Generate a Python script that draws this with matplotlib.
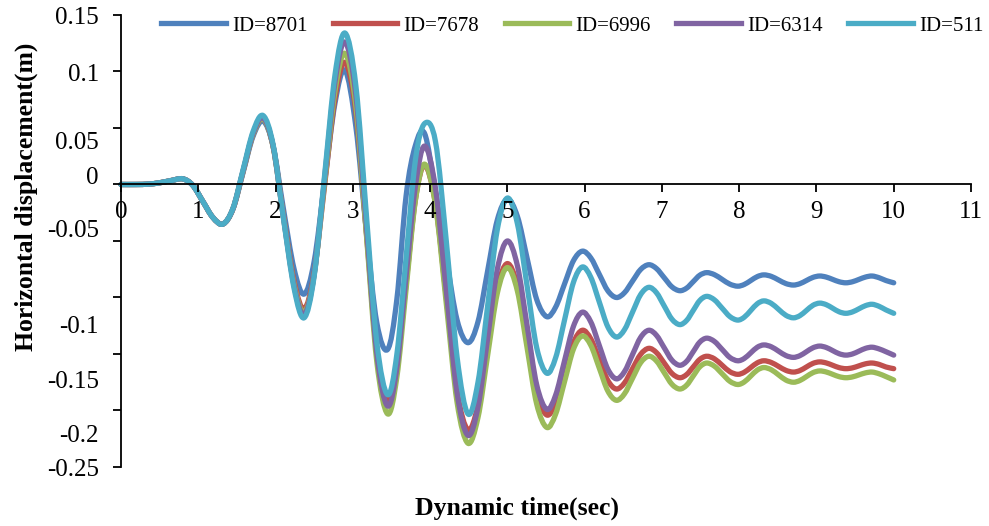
import matplotlib.pyplot as plt
from matplotlib import transforms
from matplotlib.path import Path
from matplotlib.patches import PathPatch
from matplotlib.lines import Line2D

plt.rcParams['font.family'] = 'Liberation Serif'

# time axis (sec)
t = [0, 0.2, 0.35, 0.5, 0.65, 0.8,
     0.93, 1.06, 1.19, 1.32,
     1.45, 1.58, 1.71, 1.84,
     1.97, 2.10, 2.24, 2.37,
     2.50, 2.635, 2.77, 2.90,
     3.04, 3.175, 3.31, 3.45,
     3.57, 3.69, 3.81, 3.93,
     4.07, 4.21, 4.35, 4.49,
     4.62, 4.745, 4.87, 5.00,
     5.13, 5.255, 5.38, 5.51,
     5.625, 5.74, 5.855, 5.97,
     6.08, 6.19, 6.30, 6.41,
     6.515, 6.62, 6.725, 6.83,
     6.93, 7.03, 7.13, 7.23,
     7.32, 7.405, 7.49, 7.58,
     7.68, 7.78, 7.88, 7.98,
     8.065, 8.15, 8.235, 8.32,
     8.415, 8.51, 8.605, 8.70,
     8.785, 8.87, 8.955, 9.04,
     9.125, 9.21, 9.295, 9.38,
     9.465, 9.55, 9.635, 9.72,
     9.81, 9.90, 10.0]

start = [0, 0, 0.0003, 0.0015, 0.0035, 0.005, -0.0008, -0.015, -0.0292, -0.035]

id8701 = start + [
    -0.0217, 0.0105, 0.0427, 0.056,
    0.0337, -0.0205, -0.0747, -0.097,
    -0.0681, 0.002, 0.0721, 0.101,
    0.051, -0.041, -0.122, -0.146,
    -0.1018, -0.01, 0.0345, 0.045,
    -0.006, -0.065, -0.12, -0.140,
    -0.1215, -0.0765, -0.0315, -0.013,
    -0.0282, -0.065, -0.1018, -0.117,
    -0.1085, -0.088, -0.0675, -0.059,
    -0.065, -0.0795, -0.094, -0.100,
    -0.0958, -0.0855, -0.0752, -0.071,
    -0.0744, -0.0825, -0.0906, -0.094,
    -0.0917, -0.086, -0.0803, -0.078,
    -0.0798, -0.084, -0.0882, -0.090,
    -0.0885, -0.085, -0.0815, -0.080,
    -0.0813, -0.0845, -0.0877, -0.089,
    -0.0878, -0.085, -0.0822, -0.081,
    -0.0819, -0.084, -0.0861, -0.087,
    -0.0861, -0.084, -0.0819, -0.081,
    -0.0825, -0.085, -0.087]

id7678 = start + [
    -0.0214, 0.0115, 0.0444, 0.058,
    0.0335, -0.026, -0.0855, -0.110,
    -0.0782, -0.001, 0.0762, 0.108,
    0.0642, -0.042, -0.1482, -0.192,
    -0.1615, -0.0875, -0.0135, 0.017,
    -0.0172, -0.100, -0.1828, -0.217,
    -0.1955, -0.1435, -0.0915, -0.070,
    -0.0896, -0.137, -0.1844, -0.204,
    -0.193, -0.1665, -0.140, -0.129,
    -0.1366, -0.155, -0.1734, -0.181,
    -0.1757, -0.163, -0.1503, -0.145,
    -0.1488, -0.158, -0.1672, -0.171,
    -0.1682, -0.1615, -0.1548, -0.152,
    -0.1543, -0.160, -0.1657, -0.168,
    -0.1662, -0.162, -0.1578, -0.156,
    -0.1575, -0.161, -0.1645, -0.166,
    -0.1647, -0.1615, -0.1583, -0.157,
    -0.1579, -0.160, -0.1621, -0.163,
    -0.1623, -0.1605, -0.1587, -0.158,
    -0.1592, -0.1615, -0.163]

id6996 = start + [
    -0.0214, 0.0115, 0.0444, 0.058,
    0.033, -0.0275, -0.088, -0.113,
    -0.0796, 0.0015, 0.0826, 0.116,
    0.0694, -0.0435, -0.1564, -0.203,
    -0.1707, -0.0925, -0.0143, 0.018,
    -0.0181, -0.1055, -0.193, -0.229,
    -0.2063, -0.1513, -0.0963, -0.0735,
    -0.0942, -0.1443, -0.1943, -0.215,
    -0.2032, -0.1745, -0.1458, -0.134,
    -0.1423, -0.1625, -0.1827, -0.191,
    -0.1853, -0.1715, -0.1577, -0.152,
    -0.1562, -0.1665, -0.1768, -0.181,
    -0.1776, -0.1695, -0.1614, -0.158,
    -0.1608, -0.1675, -0.1742, -0.177,
    -0.1748, -0.1695, -0.1642, -0.162,
    -0.1639, -0.1685, -0.1731, -0.175,
    -0.1735, -0.170, -0.1665, -0.165,
    -0.1659, -0.168, -0.1701, -0.171,
    -0.1703, -0.1685, -0.1667, -0.166,
    -0.1675, -0.170, -0.173]

id6314 = start + [
    -0.0213, 0.012, 0.0453, 0.059,
    0.0336, -0.028, -0.0896, -0.115,
    -0.0798, 0.0055, 0.0908, 0.126,
    0.079, -0.035, -0.149, -0.196,
    -0.1624, -0.081, -0.0016, 0.034,
    -0.0034, -0.094, -0.1846, -0.222,
    -0.1969, -0.136, -0.0751, -0.050,
    -0.0718, -0.1245, -0.1773, -0.199,
    -0.1864, -0.156, -0.1256, -0.113,
    -0.1216, -0.1425, -0.1634, -0.172,
    -0.1657, -0.1505, -0.1353, -0.129,
    -0.1335, -0.1445, -0.1555, -0.160,
    -0.1565, -0.148, -0.1395, -0.136,
    -0.1389, -0.146, -0.1531, -0.156,
    -0.154, -0.149, -0.144, -0.142,
    -0.1436, -0.1475, -0.1514, -0.153,
    -0.1515, -0.148, -0.1445, -0.143,
    -0.1442, -0.147, -0.1498, -0.151,
    -0.150, -0.1475, -0.145, -0.144,
    -0.1455, -0.148, -0.151]

id511 = start + [
    -0.021, 0.013, 0.047, 0.061,
    0.0349, -0.0285, -0.0919, -0.118,
    -0.0812, 0.008, 0.0972, 0.134,
    0.0873, -0.026, -0.1393, -0.186,
    -0.1505, -0.0645, 0.0215, 0.054,
    0.038, -0.050, -0.153, -0.203,
    -0.1751, -0.1075, -0.0399, -0.012,
    -0.0346, -0.0895, -0.1444, -0.167,
    -0.1533, -0.120, -0.0867, -0.073,
    -0.0821, -0.104, -0.1259, -0.135,
    -0.1286, -0.113, -0.0974, -0.091,
    -0.0958, -0.1075, -0.1192, -0.124,
    -0.1203, -0.1115, -0.1027, -0.099,
    -0.1021, -0.1095, -0.1169, -0.120,
    -0.1175, -0.1115, -0.1055, -0.103,
    -0.1052, -0.1105, -0.1158, -0.118,
    -0.1161, -0.1115, -0.1069, -0.105,
    -0.1063, -0.1095, -0.1127, -0.114,
    -0.1128, -0.110, -0.1072, -0.106,
    -0.1078, -0.111, -0.114]

series = [('ID=8701', id8701, '#4F81BD'),
          ('ID=7678', id7678, '#C0504D'),
          ('ID=6996', id6996, '#9BBB59'),
          ('ID=6314', id6314, '#8064A2'),
          ('ID=511', id511, '#4BACC6')]

yticks = [0.15, 0.1, 0.05, 0, -0.05, -0.1, -0.15, -0.2, -0.25]
ytick_text = ['0.15', '0.1', '0.05', '0', '-0.05', '-0.1', '-0.15', '-0.2', '-0.25']
# label positions in the original are shifted from their tick marks
ytext_pos = [0.1473, 0.0965, 0.0367, 0.0053, -0.0416, -0.1265, -0.1748, -0.2230, -0.2527]


def smooth_path(x, y):
    # "smoothed line" like the spreadsheet: bezier segments through every point
    n = len(x)
    verts = [(x[0], y[0])]
    codes = [Path.MOVETO]
    for i in range(n - 1):
        xp, yp = (x[i - 1], y[i - 1]) if i > 0 else (x[i], y[i])
        xn, yn = (x[i + 2], y[i + 2]) if i + 2 < n else (x[i + 1], y[i + 1])
        c1 = (x[i] + (x[i + 1] - xp) / 6, y[i] + (y[i + 1] - yp) / 6)
        c2 = (x[i + 1] - (xn - x[i]) / 6, y[i + 1] - (yn - y[i]) / 6)
        verts += [c1, c2, (x[i + 1], y[i + 1])]
        codes += [Path.CURVE4] * 3
    return Path(verts, codes)


fig = plt.figure(figsize=(9.89, 5.26), dpi=100)
ax = fig.add_axes([0.1223, 0.1122, 0.8595, 0.8593])

handles = []
for name, vals, col in series:
    ax.add_patch(PathPatch(smooth_path(t, vals), facecolor='none', edgecolor=col,
                           lw=3.8, joinstyle='round', capstyle='round', clip_on=False))
    handles.append(Line2D([], [], color=col, lw=3.8, label=name))

ax.set_xlim(0, 11)
ax.set_ylim(-0.25, 0.15)
ax.spines['top'].set_visible(False)
ax.spines['right'].set_visible(False)
ax.spines['bottom'].set_position(('data', 0))
for s in ['left', 'bottom']:
    ax.spines[s].set_linewidth(1.3)

ax.set_xticks(range(12))
ax.tick_params(axis='x', direction='out', length=6, width=1.3, pad=6, labelsize=18)
ax.set_yticks(yticks)
ax.set_yticklabels([])
ax.tick_params(axis='y', direction='out', length=6, width=1.3)

trans = transforms.blended_transform_factory(ax.transAxes, ax.transData)
for txt, pos in zip(ytick_text, ytext_pos):
    ax.text(-0.026, pos, txt, transform=trans, ha='right', va='center', fontsize=18)

fig.text(0.027, 1 - 197 / 526, 'Horizontal displacement(m)', rotation=90,
         ha='center', va='center', fontsize=18.5, fontweight='bold')
fig.text(517 / 989, 1 - 508 / 526, 'Dynamic time(sec)', ha='center', va='center',
         fontsize=18.5, fontweight='bold')

ax.legend(handles=handles, ncol=5, frameon=False, loc='upper left',
          bbox_to_anchor=(161 / 989, 1 - 16 / 526), bbox_transform=fig.transFigure,
          fontsize=15, handlelength=3.1, handletextpad=0.3, columnspacing=1.22,
          borderpad=0, borderaxespad=0)

fig.savefig('out.png', dpi=100)
